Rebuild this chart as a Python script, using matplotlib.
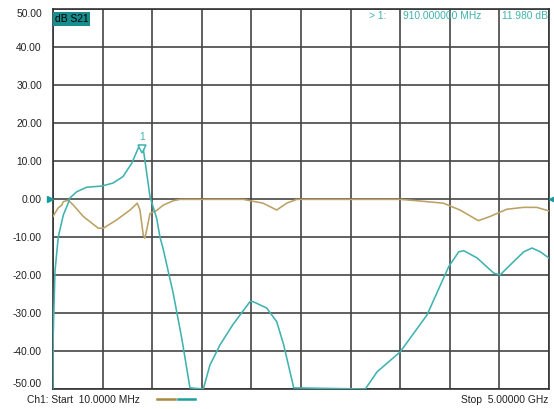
import matplotlib
matplotlib.use("Agg")
import matplotlib.pyplot as plt
from matplotlib.lines import Line2D
import matplotlib.transforms as mtransforms

# ---- data (frequency in GHz, level in dB) ----
s21_freq = [0.010, 0.012, 0.030, 0.063, 0.114, 0.161, 0.181, 0.248, 0.349, 0.500,
            0.614, 0.714, 0.802, 0.868, 0.885, 0.918, 0.986, 1.053, 1.086, 1.117,
            1.217, 1.305, 1.388, 1.522, 1.589, 1.690, 1.821, 1.992, 2.022, 2.160,
            2.261, 2.331, 2.432, 3.152, 3.270, 3.504, 3.773, 3.991, 4.092, 4.142,
            4.276, 4.444, 4.507, 4.608, 4.746, 4.829, 4.913, 4.997]
s21_db = [-50.0, -36.0, -19.0, -10.0, -4.2, -1.2, 0.3, 1.9, 3.1, 3.4,
          4.2, 5.9, 9.4, 13.4, 14.2, 13.3, 0.6, -5.1, -10.0, -13.0,
          -24.5, -36.6, -49.7, -50.0, -43.7, -38.4, -33.0, -27.0, -27.0, -28.7,
          -32.3, -38.4, -49.7, -50.0, -45.5, -40.2, -30.5, -17.8, -13.9, -13.6,
          -15.5, -19.5, -20.0, -17.4, -13.9, -12.9, -13.9, -15.5]

s11_freq = [0.010, 0.060, 0.098, 0.114, 0.164, 0.214, 0.315, 0.466, 0.516, 0.650,
            0.785, 0.858, 0.885, 0.918, 0.935, 0.952, 0.986, 1.053, 1.120, 1.221,
            1.288, 1.925, 1.992, 2.123, 2.261, 2.361, 2.462, 3.501, 3.669, 3.937,
            4.105, 4.289, 4.407, 4.575, 4.742, 4.877, 4.994]
s11_db = [-4.6, -2.4, -1.6, -0.7, -0.3, -1.6, -4.6, -7.7, -7.7, -5.5,
          -2.9, -1.1, -2.9, -9.5, -10.3, -8.2, -3.8, -3.0, -1.6, -0.45,
          -0.1, -0.1, -0.45, -1.1, -2.9, -1.1, -0.1, -0.1, -0.45, -1.1,
          -2.9, -5.7, -4.6, -2.7, -2.2, -2.2, -3.1]

y_ticks = [50, 40, 30, 20, 10, 0, -10, -20, -30, -40, -50]
y_tick_labels = ["50.00", "40.00", "30.00", "20.00", "10.00", "0.00",
                 "-10.00", "-20.00", "-30.00", "-40.00", "-50.00"]
f_start, f_stop = 0.010, 5.000
marker_freq, marker_db = 0.910, 11.98

TEAL = "#3fb3b0"
GOLD = "#bba164"
GRID = "#454545"
FONT = ["Liberation Sans", "DejaVu Sans"]
FS = 7.4

W, H = 554, 409
fig = plt.figure(figsize=(W / 100, H / 100), dpi=100)
fig.patch.set_facecolor("white")
ax = fig.add_axes([53 / W, (H - 389) / H, (549 - 53) / W, (389 - 9) / H])
ax.set_xlim(f_start, f_stop)
ax.set_ylim(-50, 50)

step = (f_stop - f_start) / 10
ax.set_xticks([f_start + i * step for i in range(11)])
ax.set_xticklabels([])
ax.set_yticks(y_ticks)
ax.set_yticklabels(y_tick_labels, fontsize=FS, family=FONT, color="#222222")
ax.tick_params(axis="both", length=0)
ax.tick_params(axis="y", pad=8)
labels = ax.get_yticklabels()
labels[0].set_va("top")
labels[-1].set_va("bottom")
ax.grid(True, color=GRID, linewidth=1.2)
for s in ax.spines.values():
    s.set_color("#333333")
    s.set_linewidth(1.2)

ax.plot(s11_freq, s11_db, color=GOLD, linewidth=1.15, zorder=3)
ax.plot(s21_freq, s21_db, color=TEAL, linewidth=1.15, zorder=4)

# marker 1
ax.plot([marker_freq], [marker_db], marker="v", markersize=6,
        markerfacecolor="white", markeredgecolor=TEAL, markeredgewidth=1.1,
        linestyle="none", zorder=5,
        transform=ax.transData + mtransforms.ScaledTranslation(0, 4 / 100, fig.dpi_scale_trans))
ax.annotate("1", (marker_freq, marker_db), xytext=(0, 11), textcoords="offset pixels",
            ha="center", va="bottom", fontsize=FS, color=TEAL, family=FONT)

# reference level arrows at 0 dB
bt = mtransforms.blended_transform_factory(ax.transAxes, ax.transData)
ax.plot([-3 / 496], [0], marker=">", markersize=5, color="#1a9a9a",
        transform=bt, clip_on=False, zorder=6)
ax.plot([1 + 3 / 496], [0], marker="<", markersize=5, color="#1a9a9a",
        transform=bt, clip_on=False, zorder=6)

# trace label box
ax.text(0.004, 1 - 10 / 380, "dB S21", transform=ax.transAxes, ha="left", va="center",
        fontsize=FS, family=FONT, color="black", zorder=7,
        bbox=dict(boxstyle="square,pad=0.15", facecolor="#178d8d", edgecolor="none"))

# marker readout
def px(x, y):
    return x / W, 1 - y / H

fig.text(*px(386, 16), "> 1:", ha="right", va="center", fontsize=FS, color=TEAL, family=FONT)
fig.text(*px(481, 16), "910.000000 MHz", ha="right", va="center", fontsize=FS, color=TEAL, family=FONT)
fig.text(*px(548, 16), "11.980 dB", ha="right", va="center", fontsize=FS, color=TEAL, family=FONT)

# bottom annotations
fig.text(*px(27, 400), "Ch1: Start  10.0000 MHz", ha="left", va="center",
         fontsize=FS, color="#222222", family=FONT)
fig.text(*px(548, 400), "Stop  5.00000 GHz", ha="right", va="center",
         fontsize=FS, color="#222222", family=FONT)
fig.add_artist(Line2D([157 / W, 175 / W], [1 - 399 / H] * 2, color="#a88a40", linewidth=1.8))
fig.add_artist(Line2D([178 / W, 195 / W], [1 - 399 / H] * 2, color="#1f9e9e", linewidth=1.8))

fig.savefig("out.png", dpi=100)
